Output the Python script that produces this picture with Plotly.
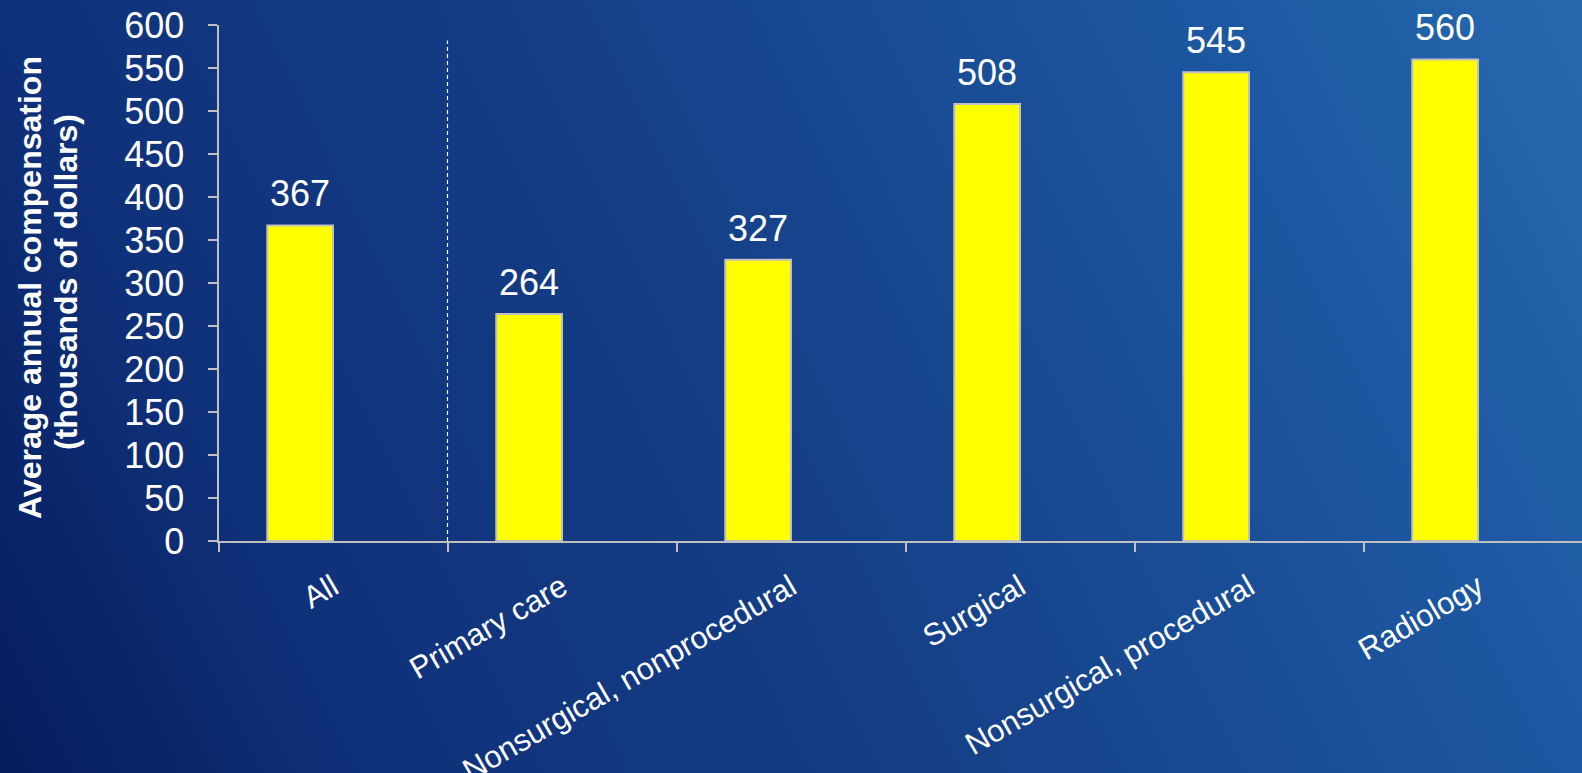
import base64
import plotly.graph_objects as go

categories = ["All", "Primary care", "Nonsurgical, nonprocedural", "Surgical",
              "Nonsurgical, procedural", "Radiology"]
values = [367, 264, 327, 508, 545, 560]
y_ticks = [0, 50, 100, 150, 200, 250, 300, 350, 400, 450, 500, 550, 600]
title_lines = ["Average annual compensation", "(thousands of dollars)"]

W, H = 1582, 773
FONT = "Liberation Sans, Arial, sans-serif"
BAR_W = 0.287

svg = (
    f'<svg xmlns="http://www.w3.org/2000/svg" width="{W}" height="{H}" viewBox="0 0 {W} {H}" '
    'preserveAspectRatio="none"><defs>'
    f'<linearGradient id="g" gradientUnits="userSpaceOnUse" x1="0" y1="{H}" x2="{W}" y2="0">'
    '<stop offset="0" stop-color="#061c5c"/>'
    '<stop offset="0.19" stop-color="#0f317a"/>'
    '<stop offset="0.46" stop-color="#143e85"/>'
    '<stop offset="0.81" stop-color="#1d58a2"/>'
    '<stop offset="1" stop-color="#2569ae"/>'
    '</linearGradient></defs>'
    f'<rect x="0" y="0" width="{W}" height="{H}" fill="url(#g)"/></svg>'
)
bg_uri = "data:image/svg+xml;base64," + base64.b64encode(svg.encode()).decode()

fig = go.Figure()
fig.add_trace(go.Bar(
    x=categories, y=values,
    width=BAR_W, offset=-BAR_W,
    marker=dict(color="#ffff00", line=dict(color="#c0c0c0", width=2)),
    hoverinfo="x+y",
))

annotations = []
for i, v in enumerate(values):
    annotations.append(dict(
        x=i - BAR_W / 2, y=v, xref="x", yref="y", text=str(v),
        showarrow=False, yanchor="bottom", yshift=9,
        font=dict(family=FONT, size=36, color="white"),
    ))
title_pos = [(30, 288), (66, 282)]
for line, (px, py) in zip(title_lines, title_pos):
    annotations.append(dict(
        x=px / W, y=1 - py / H, xref="paper", yref="paper",
        text=f"<b>{line}</b>", textangle=-90, showarrow=False,
        xanchor="center", yanchor="middle",
        font=dict(family=FONT, size=32, color="white"),
    ))

# plot area: x axis starts at 218.5 px, one category is 229 px wide and the
# axis runs past the right edge of the figure
x0_px, cat_px = 218.5, 229.0
x_end = -0.5 + (W - x0_px) / cat_px
y0_px, y1_px = 541, 25

fig.update_layout(
    width=W, height=H,
    margin=dict(l=0, r=0, t=0, b=0),
    paper_bgcolor="#123a80",
    plot_bgcolor="rgba(0,0,0,0)",
    showlegend=False,
    font=dict(family=FONT, color="white"),
    images=[dict(source=bg_uri, xref="paper", yref="paper", x=0, y=1,
                 sizex=1, sizey=1, sizing="stretch", xanchor="left",
                 yanchor="top", layer="below")],
    xaxis=dict(
        domain=[x0_px / W, 1], automargin=False,
        type="category", range=[-0.5, x_end],
        showline=True, linecolor="#c0c0c0", linewidth=2,
        ticks="outside", tickson="boundaries", ticklen=9, tickwidth=2,
        tickcolor="#c0c0c0", showgrid=False, zeroline=False,
        tickangle=-30, tickfont=dict(family=FONT, size=31, color="white"),
        ticklabelstandoff=14, fixedrange=True,
    ),
    yaxis=dict(
        domain=[1 - y0_px / H, 1 - y1_px / H], automargin=False,
        range=[0, 600], tickvals=y_ticks, ticktext=[str(t) for t in y_ticks],
        showline=True, linecolor="#c0c0c0", linewidth=2,
        ticks="outside", ticklen=9, tickwidth=2, tickcolor="#c0c0c0",
        showgrid=False, zeroline=False,
        tickfont=dict(family=FONT, size=36, color="white"),
        ticklabelstandoff=16, fixedrange=True,
    ),
    shapes=[dict(type="line", xref="x", yref="y", x0=0.5, x1=0.5, y0=0, y1=582,
                 line=dict(color="white", width=1.2, dash="4px,3px"))],
    annotations=annotations,
)

fig.write_html(
    "out.html",
    config={"displayModeBar": False},
    post_script=(
        "document.documentElement.style.margin='0px';"
        "document.documentElement.style.padding='0px';"
        "document.documentElement.style.overflow='hidden';"
        "document.body.style.margin='0px';"
        "document.body.style.padding='0px';"
        "document.body.style.overflow='hidden';"
    ),
)
